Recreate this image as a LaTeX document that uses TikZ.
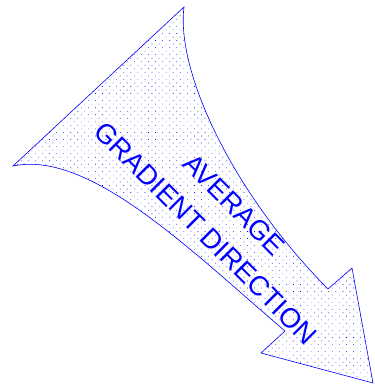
\documentclass[tikz,border=0pt]{standalone}
\usepackage{fontspec}
\setmainfont{Liberation Sans}
\usetikzlibrary{patterns.meta}
\tikzset{
  arrowbody/.style  = {draw=blue, line width=0.6pt, line join=miter,
                       pattern={Dots[distance=5pt, radius=0.45pt, angle=45]},
                       pattern color=blue},
  arrowlabel/.style = {text=blue, align=center, inner sep=0pt,
                       font=\fontsize{27.5}{40}\selectfont},
}
\begin{document}
\begin{tikzpicture}[x=1pt, y=-1pt]
  \useasboundingbox (0,0) rectangle (374,387);

  % ----- corner points of the arrow -----
  \coordinate (top)    at (184,7);
  \coordinate (left)   at (13,166);
  \coordinate (unotch) at (328,289);
  \coordinate (ucorn)  at (352,268);
  \coordinate (tip)    at (373,383);
  \coordinate (lcorn)  at (261,353);
  \coordinate (lnotch) at (285,331);

  % ----- curved arrow body -----
  \path[arrowbody] (left) -- (top)
    .. controls (176,70) and (230,190) .. (unotch)
    -- (ucorn) -- (tip) -- (lcorn) -- (lnotch)
    .. controls (190,250) and (90,150) .. (left) -- cycle;

  % ----- label -----
  \node[arrowlabel, rotate=-45] (lbl) at (220,219)
       {AVERAGE\\GRADIENT DIRECTION};

\end{tikzpicture}
\end{document}
